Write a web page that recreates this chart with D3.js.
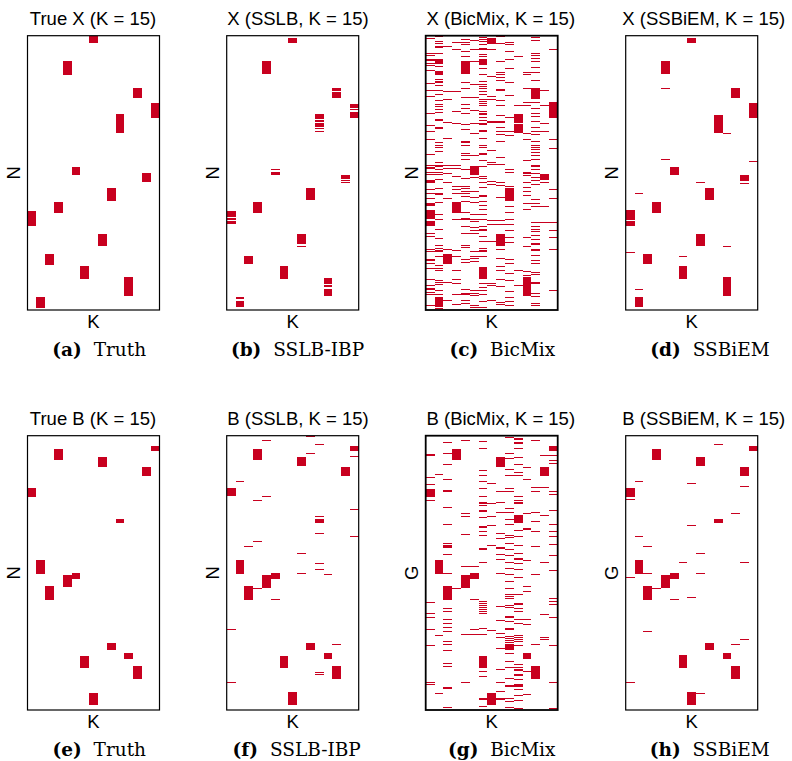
<!DOCTYPE html>
<html>
<head>
<meta charset="utf-8">
<script src="https://cdn.jsdelivr.net/npm/d3@7"></script>
<style>
  body { margin: 0; background: #fff; }
  svg { display: block; }
</style>
</head>
<body>
<svg id="fig" width="792" height="761"></svg>
<script>
// Sparse loading matrices: K = 15 factors (columns), N = 300 rows.
// Each block is [column, firstRow, endRow); each line is a single nonzero row.
const K = 15, N = 300;
const columns = d3.range(K);

const truthXBlocks = [[7,0,8],[4,28,43],[12,57,68],[14,74,90],[10,86,106],[5,144,152],[13,150,160],[9,167,181],[3,182,194],[0,192,208],[8,217,230],[2,239,251],[6,252,266],[11,264,285],[1,286,298]];

const sslbXBlocks = [[7,2,8],[4,28,42],[12,57,61],[12,62,68],[14,75,79],[14,80,81],[14,83,90],[10,86,91],[10,92,94],[10,95,100],[10,101,102],[10,104,105],[5,146,147],[5,149,152],[13,152,154],[13,155,157],[13,158,159],[13,160,161],[9,167,180],[3,182,194],[0,192,198],[0,199,200],[0,201,202],[0,203,206],[8,217,228],[8,230,231],[2,241,250],[6,252,266],[11,265,272],[11,273,275],[11,277,285],[1,286,288],[1,290,297]];
const sslbXLines = [];

const bicXBlocks = [[0,158,161],[0,191,201],[0,203,208],[0,183,186],[1,27,31],[1,39,43],[1,100,102],[1,286,297],[2,239,250],[3,182,194],[4,28,42],[5,143,152],[6,13,16],[6,25,32],[6,253,266],[7,3,9],[8,217,230],[9,167,181],[10,86,95],[10,97,106],[11,264,285],[12,1,3],[12,57,69],[12,227,229],[12,233,235],[13,151,158],[14,74,90]];
const bicXLines = [
  [2,19,21,25,27,30,32,38,52,59,66,85,98,104,113,129,141,144,145,149,151,168,172,177,216,219,233,235,236,244,245,249,254,266,273,276,277,280,282,295],
  [0,6,8,11,12,19,25,33,47,50,51,54,59,64,70,75,77,80,83,91,92,116,119,122,126,138,141,143,146,149,151,157,167,172,173,182,195,200,211,221,229,232,234,236,241,251,254,256,267,269,272,278,283,298],
  [11,60,69,94,112,141,145,150,160,177,233,269,289],
  [7,15,60,82,95,141,145,153,164,168,172,201,234,241,256,266,271,283,293],
  [4,7,9,17,22,51,57,67,75,79,85,97,102,115,116,119,128,130,135,146,156,164,167,170,172,175,181,193,199,201,208,216,229,231,244,247,277,281,283,289,292],
  [5,14,28,53,67,81,95,106,130,154,170,176,182,195,200,203,209,212,216,235,241,243,246,278,281,284,294,297],
  [1,4,6,9,20,22,35,42,49,50,53,55,57,61,64,69,71,74,76,82,84,86,89,92,95,97,103,104,112,119,122,128,129,136,142,153,156,160,166,174,175,181,185,189,190,195,200,208,211,213,219,225,232,234,236,241,271,275,278,282,290,297],
  [14,44,66,69,93,94,125,138,140,159,162,202,206,224,271,273,289],
  [0,8,28,40,42,45,48,58,59,70,76,87,93,94,100,104,107,115,133,140,160,163,176,202,206,233,243,252,256,266,274,291,293],
  [7,9,17,26,35,51,65,89,104,109,146,149,164,186,193,200,206,213,220,226,244,249,259,267,279,286,290,295],
  [22,76,256,273],
  [40,42,57,72,76,106,113,136,149,150,152,160,165,170,174,183,189,220,230,257,262],
  [5,19,21,24,28,34,40,48,72,79,84,88,93,100,104,108,115,120,122,124,127,130,135,141,143,146,150,154,158,162,179,183,186,204,208,211,214,218,222,240,245,249,258,261,269,271,281,285,292,295],
  [59,76,95,104,160,186,204],
  [14,72,113,123,168,178,204,213,220,233,278]
];

const ssbiemXBlocks = [[7,2,8],[4,28,42],[12,57,68],[14,74,90],[10,87,106],[5,144,152],[13,152,159],[9,167,180],[3,182,194],[0,191,202],[0,203,208],[8,217,230],[2,239,250],[6,252,266],[11,264,285],[1,286,297]];
const ssbiemXLines = [[4,57],[11,106],[4,135],[14,137],[13,161],[8,160],[1,172],[11,230],[0,237],[6,241],[1,277]];

const truthBBlocks = [[14,11,17],[3,15,27],[8,23,34],[13,34,44],[0,57,67],[10,91,95],[1,136,151],[4,152,166],[5,150,157],[2,164,180],[9,227,234],[11,238,244],[6,241,254],[12,252,266],[7,281,294]];

const sslbBBlocks = [[14,11,17],[3,15,27],[8,23,33],[13,34,44],[0,57,66],[10,91,95],[1,136,151],[5,150,157],[4,152,167],[2,164,180],[9,227,234],[11,238,244],[6,241,254],[12,252,266],[7,280,294]];
const sslbBLines = [[9,0],[4,5],[10,9],[9,19],[14,22],[1,50],[4,66],[3,70],[14,80],[10,88],[10,106],[14,110],[3,115],[2,121],[8,128],[10,139],[10,146],[8,150],[11,151],[3,167],[5,179],[0,211],[12,228],[10,258],[10,261],[0,269]];

const bicBBlocks = [[0,20,22],[0,58,67],[0,211,213],[1,136,151],[2,121,123],[2,164,180],[2,275,277],[3,15,27],[4,152,167],[5,150,157],[6,13,15],[6,81,83],[6,99,101],[6,123,125],[6,241,254],[6,287,289],[7,281,294],[8,23,34],[8,83,85],[8,122,124],[8,287,289],[9,197,199],[9,210,212],[9,228,234],[9,273,275],[10,87,96],[10,134,136],[10,183,185],[10,224,226],[10,261,263],[10,272,275],[11,101,103],[11,238,244],[12,252,266],[13,34,44],[14,11,17]];
const bicBLines = [
  [45,53,70,182,194,198,229,269,272],
  [42,218,281],
  [7,19,31,47,59,61,78,97,117,119,129,150,188,192,201,205,209,214,225,228,234,249,252,297],
  [167],
  [5,84,88,108,143,217,269],
  [143,151,179,211,217],
  [6,37,43,50,57,66,72,74,76,89,104,109,138,181,183,185,187,189,192,194,210,217,257,263,296],
  [52,74,88,98,119,213],
  [61,72,106,112,129,135,150,186,202,216,220,232,255,269,279],
  [1,19,24,36,43,57,60,79,83,91,97,109,111,117,124,131,138,145,151,159,167,173,175,178,185,187,203,219,221,223,226,238,246,253,265,287,290,297],
  [2,4,7,8,13,23,31,40,43,66,70,72,74,103,110,119,128,139,146,155,173,188,192,201,205,218,220,222,229,250,253,255,256,266,277,284,289,298],
  [34,47,85,136,164,170,201,206,257,283],
  [5,56,61,83,93,104,121,151,228],
  [21,56,87,138,195,220,222],
  [21,27,30,60,64,81,97,104,110,118,130,147,178,181,184,198,229,269,298]
];

const ssbiemBBlocks = [[14,11,17],[3,15,27],[8,23,33],[13,34,44],[0,57,67],[10,91,95],[1,136,151],[5,150,157],[4,152,167],[2,164,180],[9,227,234],[11,238,244],[6,240,254],[12,252,266],[7,280,295]];
const ssbiemBLines = [[10,9],[1,50],[7,52],[13,55],[0,69],[12,85],[7,98],[1,110],[2,121],[8,128],[6,138],[13,138],[2,150],[8,150],[0,154],[3,167],[7,176],[5,179],[2,214],[13,222],[12,228],[0,269],[8,281]];

const titles = ["True X (K = 15)", "X (SSLB, K = 15)", "X (BicMix, K = 15)", "X (SSBiEM, K = 15)",
                "True B (K = 15)", "B (SSLB, K = 15)", "B (BicMix, K = 15)", "B (SSBiEM, K = 15)"];
const yLabels = ["N", "N", "N", "N", "N", "N", "G", "G"];
const captionTags = ["(a)", "(b)", "(c)", "(d)", "(e)", "(f)", "(g)", "(h)"];
const captionNames = ["Truth", "SSLB-IBP", "BicMix", "SSBiEM", "Truth", "SSLB-IBP", "BicMix", "SSBiEM"];

// turn per-column row lists / [col,row] pairs into one-row cells
const fromColumns = lists => lists.flatMap((rows, c) => rows.map(r => [c, r, r + 1]));
const fromPairs = pairs => pairs.map(([c, r]) => [c, r, r + 1]);

const panels = [
  { cells: truthXBlocks },
  { cells: sslbXBlocks.concat(fromPairs(sslbXLines)) },
  { cells: bicXBlocks.concat(fromColumns(bicXLines)), heavy: true },
  { cells: ssbiemXBlocks.concat(fromPairs(ssbiemXLines)) },
  { cells: truthBBlocks },
  { cells: sslbBBlocks.concat(fromPairs(sslbBLines)) },
  { cells: bicBBlocks.concat(fromColumns(bicBLines)), heavy: true },
  { cells: ssbiemBBlocks.concat(fromPairs(ssbiemBLines)) }
];

const RED = "#c8001f";
const sans = "'Liberation Sans', Arial, Helvetica, sans-serif";
const serif = "'DejaVu Serif', serif";

const panelLeft = [27.5, 226.7, 425.7, 625.7];
const panelTop = [35.7, 435.7];
const pw = 132, ph = 274.3;
const titleCx = [93, 298, 500.8, 703.8];
const captionCx = [[99.2, 297.5, 502.3, 710], [99.2, 296.7, 501.7, 709.7]];

const svg = d3.select("#fig");

panels.forEach((p, i) => {
  const row = Math.floor(i / 4), col = i % 4;
  const x0 = panelLeft[col], y0 = panelTop[row];
  const x = d3.scaleBand().domain(columns).range([x0, x0 + pw]);
  const y = d3.scaleLinear().domain([0, N]).range([y0, y0 + ph]);
  const g = svg.append("g");

  g.selectAll("rect.cell").data(p.cells).join("rect")
    .attr("class", "cell")
    .attr("x", d => Math.round(x(d[0])))
    .attr("width", d => Math.round(x(d[0]) + x.bandwidth()) - Math.round(x(d[0])))
    .attr("y", d => Math.round(y(d[1])))
    .attr("height", d => Math.max(1, Math.round(y(d[2])) - Math.round(y(d[1]))))
    .attr("fill", RED)
    .attr("shape-rendering", "crispEdges");

  g.append("rect")
    .attr("x", x0).attr("y", y0).attr("width", pw).attr("height", ph)
    .attr("fill", "none").attr("stroke", "#000")
    .attr("stroke-width", p.heavy ? 1.8 : 1.2);

  g.append("text")
    .attr("x", titleCx[col]).attr("y", y0 - 11.2)
    .attr("text-anchor", "middle")
    .style("font-family", sans).style("font-size", "18.5px")
    .text(titles[i]);

  g.append("text")
    .attr("transform", `translate(${x0 - 7.5},${y0 + ph / 2}) rotate(-90)`)
    .attr("text-anchor", "middle")
    .style("font-family", sans).style("font-size", "18.5px")
    .text(yLabels[i]);

  g.append("text")
    .attr("x", x0 + pw / 2).attr("y", y0 + ph + 18)
    .attr("text-anchor", "middle")
    .style("font-family", sans).style("font-size", "18.5px")
    .text("K");

  const cap = g.append("text")
    .attr("x", captionCx[row][col]).attr("y", y0 + ph + 46)
    .attr("text-anchor", "middle")
    .style("font-family", serif).style("font-size", "18.5px");
  cap.append("tspan").style("font-weight", "bold").text(captionTags[i]);
  cap.append("tspan").attr("dx", 6).text(" " + captionNames[i]);
});
</script>
</body>
</html>
